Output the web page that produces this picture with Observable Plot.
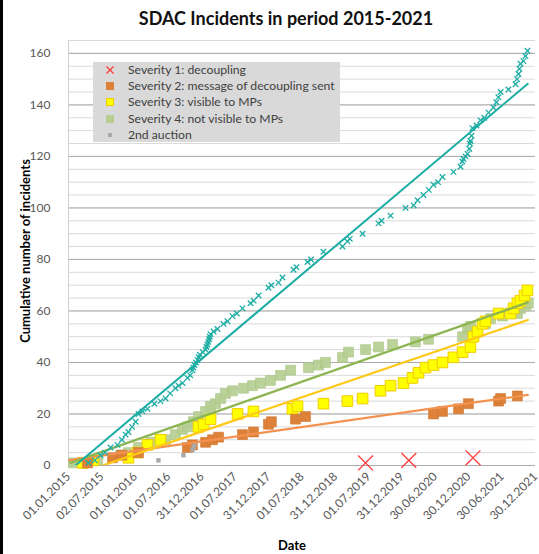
<!DOCTYPE html>
<html><head><meta charset="utf-8">
<script src="https://cdn.jsdelivr.net/npm/d3@7"></script>
<script src="https://cdn.jsdelivr.net/npm/@observablehq/plot@0.6"></script>
<style>
body{margin:0;background:#fff;font-family:Lato,"Open Sans",sans-serif;}
#wrap{position:relative;width:539px;height:554px;overflow:hidden;}
#title{height:36px;box-sizing:border-box;padding-top:6px;padding-left:33px;text-align:center;font-weight:bold;font-size:18px;line-height:24px;color:#111;}
#bar{position:absolute;left:0;top:0;width:3px;height:554px;background:#000;}
#legend{position:absolute;left:93px;top:62px;width:247px;height:80px;background:#D9D9D9;font-size:12.2px;color:#404040;}
.row{position:absolute;left:0;width:247px;height:16px;line-height:16px;}
.row span.t{position:absolute;left:35px;top:0;white-space:nowrap;}
.row .m{position:absolute;top:4px;left:13px;width:8px;height:8px;}
#ytitle{position:absolute;left:25px;top:251px;transform:translate(-50%,-50%) rotate(-90deg);white-space:nowrap;font-weight:bold;font-size:13px;line-height:14px;color:#000;}
#xtitle{position:absolute;left:292px;top:545px;transform:translate(-50%,-50%);white-space:nowrap;font-weight:bold;font-size:13px;line-height:14px;color:#000;}
</style></head>
<body>
<div id="wrap">
<div id="title">SDAC Incidents in period 2015-2021</div>
<div id="chart"></div>
<div id="legend"></div>
<div id="ytitle">Cumulative number of incidents</div>
<div id="xtitle">Date</div>
<div id="bar"></div>
</div>
<script>
// ---- data ----
const xTickLabels = ["01.01.2015","02.07.2015","01.01.2016","01.07.2016","31.12.2016","01.07.2017","31.12.2017","01.07.2018","31.12.2018","01.07.2019","31.12.2019","30.06.2020","30.12.2020","30.06.2021","30.12.2021"];
const yTicks = [0,20,40,60,80,100,120,140,160];
const seriesNames = ["Severity 1: decoupling","Severity 2: message of decoupling sent","Severity 3: visible to MPs","Severity 4: not visible to MPs","2nd auction"];

const severity1 = [["2019-06-14",1],["2020-02-06",2],["2021-01-22",3]];
const severity2 = [["2015-04-15",1],["2015-08-30",3],["2015-10-20",4],["2016-01-19",5],["2016-10-13",7],["2016-11-09",8],["2017-01-20",9],["2017-02-27",10],["2017-04-01",11],["2017-08-10",12],["2017-10-09",13],["2017-12-30",16],["2018-01-15",17],["2018-05-27",18],["2018-07-21",19],["2020-06-20",20],["2020-08-08",21],["2020-11-04",22],["2020-12-28",24],["2021-06-11",25],["2021-06-22",26],["2021-09-22",27]];
const severity3 = [["2015-03-20",1],["2015-05-18",2],["2015-11-25",3],["2016-01-13",5],["2016-03-08",8],["2016-05-18",10],["2016-12-12",15],["2017-01-09",16],["2017-02-16",18],["2017-07-14",20],["2017-10-09",21],["2018-05-10",22],["2018-06-07",23],["2018-10-27",24],["2019-03-07",25],["2019-05-29",26],["2019-09-04",29],["2019-10-29",31],["2020-01-08",32],["2020-02-26",34],["2020-03-30",36],["2020-05-07",38],["2020-06-20",39],["2020-08-08",40],["2020-10-07",42],["2020-11-26",44],["2021-01-08",46],["2021-01-25",50],["2021-02-16",52],["2021-03-15",55],["2021-03-31",56],["2021-06-11",59],["2021-08-15",59],["2021-09-01",61],["2021-09-22",63],["2021-10-09",64],["2021-10-31",66],["2021-11-16",68]];
const severity4 = [["2015-01-28",1],["2015-06-09",2],["2015-10-12",4],["2015-11-25",5],["2016-01-19",7],["2016-03-25",9],["2016-06-15",10],["2016-08-08",12],["2016-09-16",14],["2016-10-13",15],["2016-11-15",17],["2016-12-12",19],["2017-01-20",21],["2017-02-16",23],["2017-03-15",24],["2017-04-12",26],["2017-05-09",28],["2017-06-16",29],["2017-08-15",30],["2017-10-04",31],["2017-11-16",32],["2018-01-10",33],["2018-03-06",35],["2018-04-30",37],["2018-08-06",38],["2018-09-30",39],["2018-11-07",40],["2019-02-08",42],["2019-03-13",44],["2019-06-14",45],["2019-08-24",46],["2019-11-09",47],["2020-03-13",48],["2020-05-24",49],["2020-11-26",50],["2020-12-23",53],["2021-01-08",54],["2021-03-31",55],["2021-04-28",57],["2021-07-02",58],["2021-09-22",59],["2021-10-09",61],["2021-11-05",62],["2021-11-21",63]];
const secondAuction = [["2016-05-07",2],["2016-09-21",4],["2016-11-09",6],["2016-11-15",7],["2016-11-20",8]];
const total = [["2015-04-20",1],["2015-05-25",2],["2015-06-25",4],["2015-07-20",5],["2015-08-19",7],["2015-09-26",8],["2015-10-20",10],["2015-11-09",12],["2015-11-25",13],["2015-12-15",15],["2016-01-03",17],["2016-01-19",20],["2016-02-10",21],["2016-03-08",22],["2016-04-15",24],["2016-05-18",25],["2016-06-15",26],["2016-07-10",28],["2016-08-08",30],["2016-08-25",31],["2016-09-16",32],["2016-10-13",34],["2016-10-28",35],["2016-11-09",37],["2016-11-14",38],["2016-11-20",39],["2016-11-28",40],["2016-12-07",41],["2016-12-14",42],["2016-12-20",43],["2017-01-05",44],["2017-01-20",45],["2017-01-25",46],["2017-01-30",47],["2017-02-04",48],["2017-02-08",49],["2017-02-12",50],["2017-02-16",51],["2017-03-05",52],["2017-03-26",53],["2017-04-28",55],["2017-05-20",56],["2017-06-16",58],["2017-07-10",59],["2017-08-10",61],["2017-09-23",63],["2017-10-10",64],["2017-11-06",66],["2017-12-30",69],["2018-01-15",70],["2018-02-23",71],["2018-03-17",73],["2018-05-16",76],["2018-06-01",77],["2018-08-01",79],["2018-08-20",80],["2018-10-27",83],["2019-02-08",85],["2019-03-07",87],["2019-03-20",88],["2019-05-29",90],["2019-08-24",94],["2019-09-10",95],["2019-10-29",97],["2020-01-19",100],["2020-03-03",101],["2020-03-25",103],["2020-04-26",105],["2020-05-25",107],["2020-06-20",109],["2020-07-15",110],["2020-08-08",112],["2020-10-07",114],["2020-11-15",116],["2020-11-25",118],["2020-12-01",119],["2020-12-12",120],["2020-12-23",121],["2021-01-02",123],["2021-01-05",125],["2021-01-08",126],["2021-01-14",128],["2021-01-19",131],["2021-02-10",132],["2021-03-04",134],["2021-03-25",135],["2021-04-17",137],["2021-05-14",139],["2021-05-30",141],["2021-06-10",143],["2021-06-22",145],["2021-08-04",146],["2021-09-12",148],["2021-09-20",150],["2021-09-28",152],["2021-10-03",154],["2021-10-09",156],["2021-10-25",157],["2021-11-05",159],["2021-11-16",161]];

// linear trendlines (start / end values)
const trendTotal = [["2015-02-08",0],["2021-11-18",148.2]];
const trendSev4 = [["2015-01-12",1.0],["2021-11-18",63.3]];
const trendSev3 = [["2015-03-01",-3.1],["2021-11-18",56.5]];
const trendSev2 = [["2015-01-01",2.0],["2021-11-18",27.4]];

// ---- build ----
const parseTick = d3.utcParse("%d.%m.%Y");
const fmtTick = d3.utcFormat("%d.%m.%Y");
const rows = arr => arr.map(([d, v]) => ({date: new Date(d + "T00:00:00Z"), value: v}));
const xTicks = xTickLabels.map(parseTick);
const yMinor = d3.range(0, 166, 5);

const C = {cyan:"#1BADA4", red:"#FF3B3B", orange:"#DE823A", orangeLine:"#F39250", yellow:"#FFFF00", yellowEdge:"#F2CC00", yellowLine:"#FFC814", green:"#B6CE92", greenLine:"#8DB653", gray:"#A8A8A8"};

const chart = Plot.plot({
  width: 539, height: 518,
  marginTop: 4, marginLeft: 68, marginRight: 4, marginBottom: 89,
  style: {fontFamily: "Lato, 'Open Sans', sans-serif", fontSize: "12px", color: "#595959", background: "transparent", overflow: "visible"},
  x: {type: "utc", domain: [xTicks[0], xTicks[xTicks.length - 1]], ticks: xTicks, tickFormat: fmtTick, tickRotate: -45, tickSize: 0, tickPadding: 9, label: null},
  y: {domain: [0, 165], ticks: yTicks, tickSize: 0, tickPadding: 18, label: null},
  marks: [
    Plot.ruleY(yMinor, {stroke: "#DADADA", strokeWidth: 1}),
    Plot.ruleY(yTicks, {stroke: "#ABABAB", strokeWidth: 1}),
    Plot.ruleX([xTicks[0]], {stroke: "#D0D0D0"}),
    Plot.dot(rows(severity4), {x: "date", y: "value", symbol: "square", r: 5.6, fill: C.green, fillOpacity: 0.92, stroke: "#AAC585", strokeWidth: 0.6}),
    Plot.dot(rows(severity3), {x: "date", y: "value", symbol: "square", r: 6.0, fill: C.yellow, stroke: C.yellowEdge, strokeWidth: 1}),
    Plot.dot(rows(severity2), {x: "date", y: "value", symbol: "square", r: 5.6, fill: C.orange, stroke: "#D07530", strokeWidth: 0.6}),
    Plot.dot(rows(secondAuction), {x: "date", y: "value", symbol: "square", r: 2.5, fill: C.gray}),
    Plot.line(rows(trendSev2), {x: "date", y: "value", stroke: C.orangeLine, strokeWidth: 2.2, clip: true}),
    Plot.line(rows(trendSev3), {x: "date", y: "value", stroke: C.yellowLine, strokeWidth: 2.2, clip: true}),
    Plot.line(rows(trendSev4), {x: "date", y: "value", stroke: C.greenLine, strokeWidth: 2.4, clip: true}),
    Plot.line(rows(trendTotal), {x: "date", y: "value", stroke: C.cyan, strokeWidth: 2, clip: true}),
    Plot.dot(rows(total), {x: "date", y: "value", symbol: "times", r: 2.6, stroke: C.cyan, strokeWidth: 1.3}),
    Plot.dot(rows(severity1), {x: "date", y: "value", symbol: "times", r: 6.8, stroke: C.red, strokeWidth: 1.3})
  ]
});
document.getElementById("chart").appendChild(chart);

// legend (inside plot area)
const lg = document.getElementById("legend");
const markers = [
  `<svg class="m" viewBox="0 0 8 8"><path d="M0.5 0.5L7.5 7.5M0.5 7.5L7.5 0.5" stroke="${C.red}" stroke-width="1.3"/></svg>`,
  `<div class="m" style="background:${C.orange}"></div>`,
  `<div class="m" style="background:${C.yellow};box-sizing:border-box;border:1px solid ${C.yellowEdge}"></div>`,
  `<div class="m" style="background:${C.green}"></div>`,
  `<div class="m" style="background:${C.gray};width:4px;height:4px;top:6px;left:15px"></div>`
];
seriesNames.forEach((name, i) => {
  const r = document.createElement("div");
  r.className = "row";
  r.style.top = (i * 16.2) + "px";
  r.innerHTML = markers[i] + `<span class="t">${name}</span>`;
  lg.appendChild(r);
});
</script>
</body></html>
